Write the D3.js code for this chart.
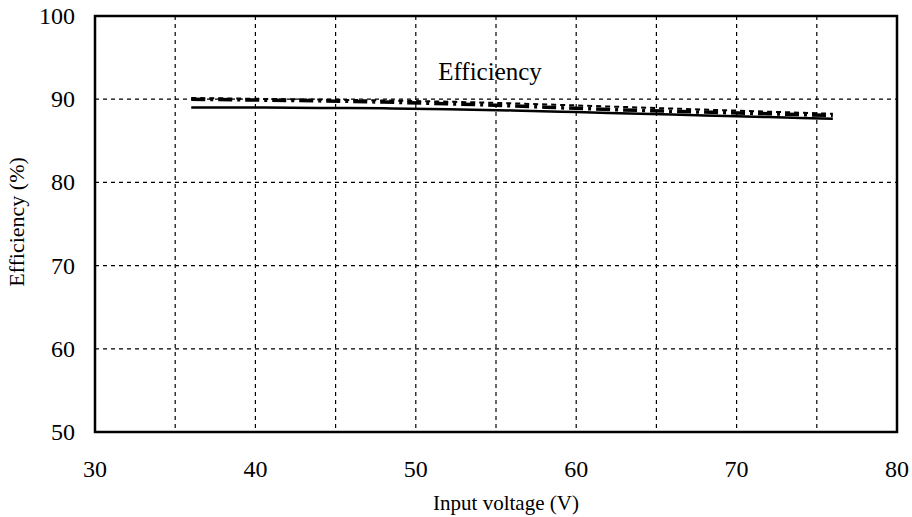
<!DOCTYPE html>
<html>
<head>
<meta charset="utf-8">
<script src="https://cdn.jsdelivr.net/npm/d3@7"></script>
<style>
  body { margin: 0; background: #fff; }
  text { font-family: "Liberation Serif", "DejaVu Serif", serif; fill: #000; }
</style>
</head>
<body>
<div id="chart"></div>
<script>
// values
const voltage = [36, 40, 44, 48, 52, 56, 60, 64, 68, 72, 76];
const effSolid = [89.0, 89.0, 88.95, 88.9, 88.8, 88.65, 88.45, 88.25, 88.05, 87.85, 87.65];
const effDashed = [90.15, 90.05, 89.95, 89.85, 89.7, 89.5, 89.25, 89.0, 88.75, 88.5, 88.25];
const effDashDot = [90.0, 89.9, 89.8, 89.65, 89.45, 89.2, 88.9, 88.65, 88.45, 88.25, 88.05];
const xTicks = [30, 40, 50, 60, 70, 80];
const xGrid = [35, 40, 45, 50, 55, 60, 65, 70, 75];
const yTicks = [50, 60, 70, 80, 90, 100];

const width = 912, height = 517;
const margin = {top: 16, right: 15, bottom: 85, left: 95};

const svg = d3.select("#chart").append("svg")
    .attr("width", width)
    .attr("height", height);

const x = d3.scaleLinear().domain([30, 80]).range([margin.left, width - margin.right]);
const y = d3.scaleLinear().domain([50, 100]).range([height - margin.bottom, margin.top]);

// grid
svg.append("g")
    .selectAll("line")
    .data(xGrid)
    .enter().append("line")
    .attr("x1", d => x(d)).attr("x2", d => x(d))
    .attr("y1", y(100)).attr("y2", y(50))
    .attr("stroke", "#000")
    .attr("stroke-width", 1.2)
    .attr("stroke-dasharray", "4,4");

svg.append("g")
    .selectAll("line")
    .data(yTicks.filter(d => d > 50 && d < 100))
    .enter().append("line")
    .attr("x1", x(30)).attr("x2", x(80))
    .attr("y1", d => y(d)).attr("y2", d => y(d))
    .attr("stroke", "#000")
    .attr("stroke-width", 1.2)
    .attr("stroke-dasharray", "4,4");

// frame
svg.append("rect")
    .attr("x", x(30)).attr("y", y(100))
    .attr("width", x(80) - x(30)).attr("height", y(50) - y(100))
    .attr("fill", "none")
    .attr("stroke", "#000")
    .attr("stroke-width", 2.5);

// tick labels
svg.append("g")
    .selectAll("text")
    .data(xTicks)
    .enter().append("text")
    .attr("x", d => x(d))
    .attr("y", height - margin.bottom + 45)
    .attr("text-anchor", "middle")
    .attr("font-size", 24)
    .text(d => d);

svg.append("g")
    .selectAll("text")
    .data(yTicks)
    .enter().append("text")
    .attr("x", margin.left - 20)
    .attr("y", d => y(d) + 8)
    .attr("text-anchor", "end")
    .attr("font-size", 24)
    .text(d => d);

// curves
const line = d3.line().x(d => x(d[0])).y(d => y(d[1])).curve(d3.curveMonotoneX);

svg.append("path")
    .attr("d", line(voltage.map((v, i) => [v, effDashed[i]])))
    .attr("fill", "none")
    .attr("stroke", "#000")
    .attr("stroke-width", 2)
    .attr("stroke-dasharray", "5,4");

svg.append("path")
    .attr("d", line(voltage.map((v, i) => [v, effDashDot[i]])))
    .attr("fill", "none")
    .attr("stroke", "#000")
    .attr("stroke-width", 3.5)
    .attr("stroke-dasharray", "14,5,3,5");

svg.append("path")
    .attr("d", line(voltage.map((v, i) => [v, effSolid[i]])))
    .attr("fill", "none")
    .attr("stroke", "#000")
    .attr("stroke-width", 2.5);

// titles
svg.append("text")
    .attr("x", 490).attr("y", 80)
    .attr("text-anchor", "middle")
    .attr("font-size", 25)
    .text("Efficiency");

svg.append("text")
    .attr("x", 506)
    .attr("y", 510)
    .attr("text-anchor", "middle")
    .attr("font-size", 21)
    .text("Input voltage (V)");

svg.append("text")
    .attr("transform", "translate(24, 222) rotate(-90)")
    .attr("text-anchor", "middle")
    .attr("font-size", 22)
    .text("Efficiency (%)");
</script>
</body>
</html>
